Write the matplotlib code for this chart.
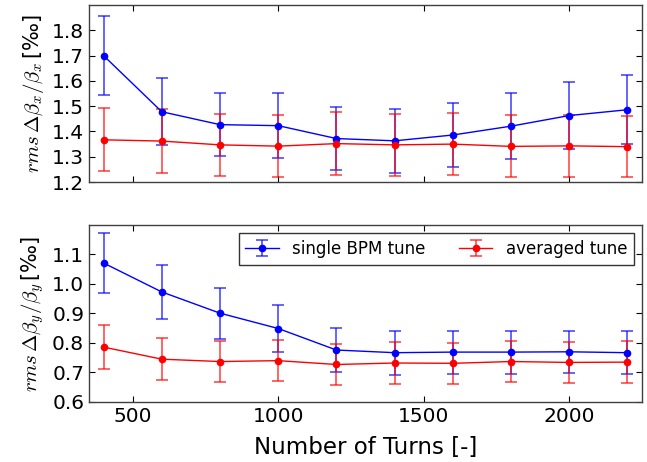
import matplotlib
matplotlib.use("Agg")
import matplotlib.pyplot as plt
import numpy as np

turns = [400, 600, 800, 1000, 1200, 1400, 1600, 1800, 2000, 2200]

# horizontal plane
bx_single = [1.700, 1.478, 1.427, 1.423, 1.372, 1.363, 1.386, 1.421, 1.463, 1.486]
bx_single_err = [0.155, 0.132, 0.125, 0.129, 0.125, 0.127, 0.128, 0.131, 0.134, 0.136]
bx_avg = [1.367, 1.362, 1.347, 1.342, 1.352, 1.347, 1.350, 1.341, 1.343, 1.340]
bx_avg_err = [0.124, 0.126, 0.123, 0.124, 0.124, 0.123, 0.124, 0.123, 0.123, 0.122]

# vertical plane
by_single = [1.071, 0.973, 0.901, 0.849, 0.776, 0.767, 0.769, 0.769, 0.770, 0.767]
by_single_err = [0.101, 0.093, 0.086, 0.081, 0.074, 0.074, 0.073, 0.073, 0.072, 0.073]
by_avg = [0.786, 0.745, 0.737, 0.740, 0.727, 0.732, 0.731, 0.737, 0.734, 0.735]
by_avg_err = [0.075, 0.071, 0.071, 0.070, 0.069, 0.070, 0.070, 0.070, 0.069, 0.070]

plt.rcParams.update(
    {
        "font.family": "DejaVu Sans",
        "font.size": 14,
        "mathtext.fontset": "cm",
        "xtick.direction": "in",
        "ytick.direction": "in",
        "xtick.top": True,
        "ytick.right": True,
        "xtick.major.size": 4,
        "ytick.major.size": 4,
        "xtick.labelsize": 14.5,
        "ytick.labelsize": 14.5,
        "axes.linewidth": 1.0,
        "axes.edgecolor": "0.25",
    }
)

fig = plt.figure(figsize=(6.47, 4.62), dpi=100)
ax1 = fig.add_axes([0.1376, 0.606, 0.8547, 0.383])
ax2 = fig.add_axes([0.1376, 0.130, 0.8547, 0.383])


def draw(ax, single, single_err, avg, avg_err):
    h1 = ax.errorbar(turns, single, yerr=single_err, color="b", marker="o",
                     markersize=4.5, linewidth=1.0, capsize=4, elinewidth=1.2,
                     capthick=1.2, label="single BPM tune")
    h2 = ax.errorbar(turns, avg, yerr=avg_err, color="r", marker="o",
                     markersize=4.5, linewidth=1.0, capsize=4, elinewidth=1.2,
                     capthick=1.2, label="averaged tune")
    for h in (h1, h2):
        for part in h[1] + h[2]:
            part.set_alpha(0.7)
    ax.set_xlim(350, 2250)
    ax.set_xticks([500, 1000, 1500, 2000])
    return h1, h2


draw(ax1, bx_single, bx_single_err, bx_avg, bx_avg_err)
ax1.set_ylim(1.2, 1.9)
ax1.set_yticks(np.arange(1.2, 1.81, 0.1))
ax1.set_xticklabels([])
ax1.set_ylabel(r"$rms\,\Delta\beta_x/\beta_x\,$[‰]", fontsize=15)

draw(ax2, by_single, by_single_err, by_avg, by_avg_err)
ax2.set_ylim(0.6, 1.2)
ax2.set_yticks(np.arange(0.6, 1.11, 0.1))
ax2.set_ylabel(r"$rms\,\Delta\beta_y/\beta_y\,$[‰]", fontsize=15)
ax2.set_xlabel("Number of Turns [-]", fontsize=16.5, labelpad=7)
leg = ax2.legend(loc="upper right", ncol=2, numpoints=1, fontsize=12,
                 fancybox=False, framealpha=1, borderaxespad=0.5)
leg.get_frame().set_edgecolor("0.2")

fig.align_ylabels([ax1, ax2])
fig.savefig("out.png", dpi=100)
